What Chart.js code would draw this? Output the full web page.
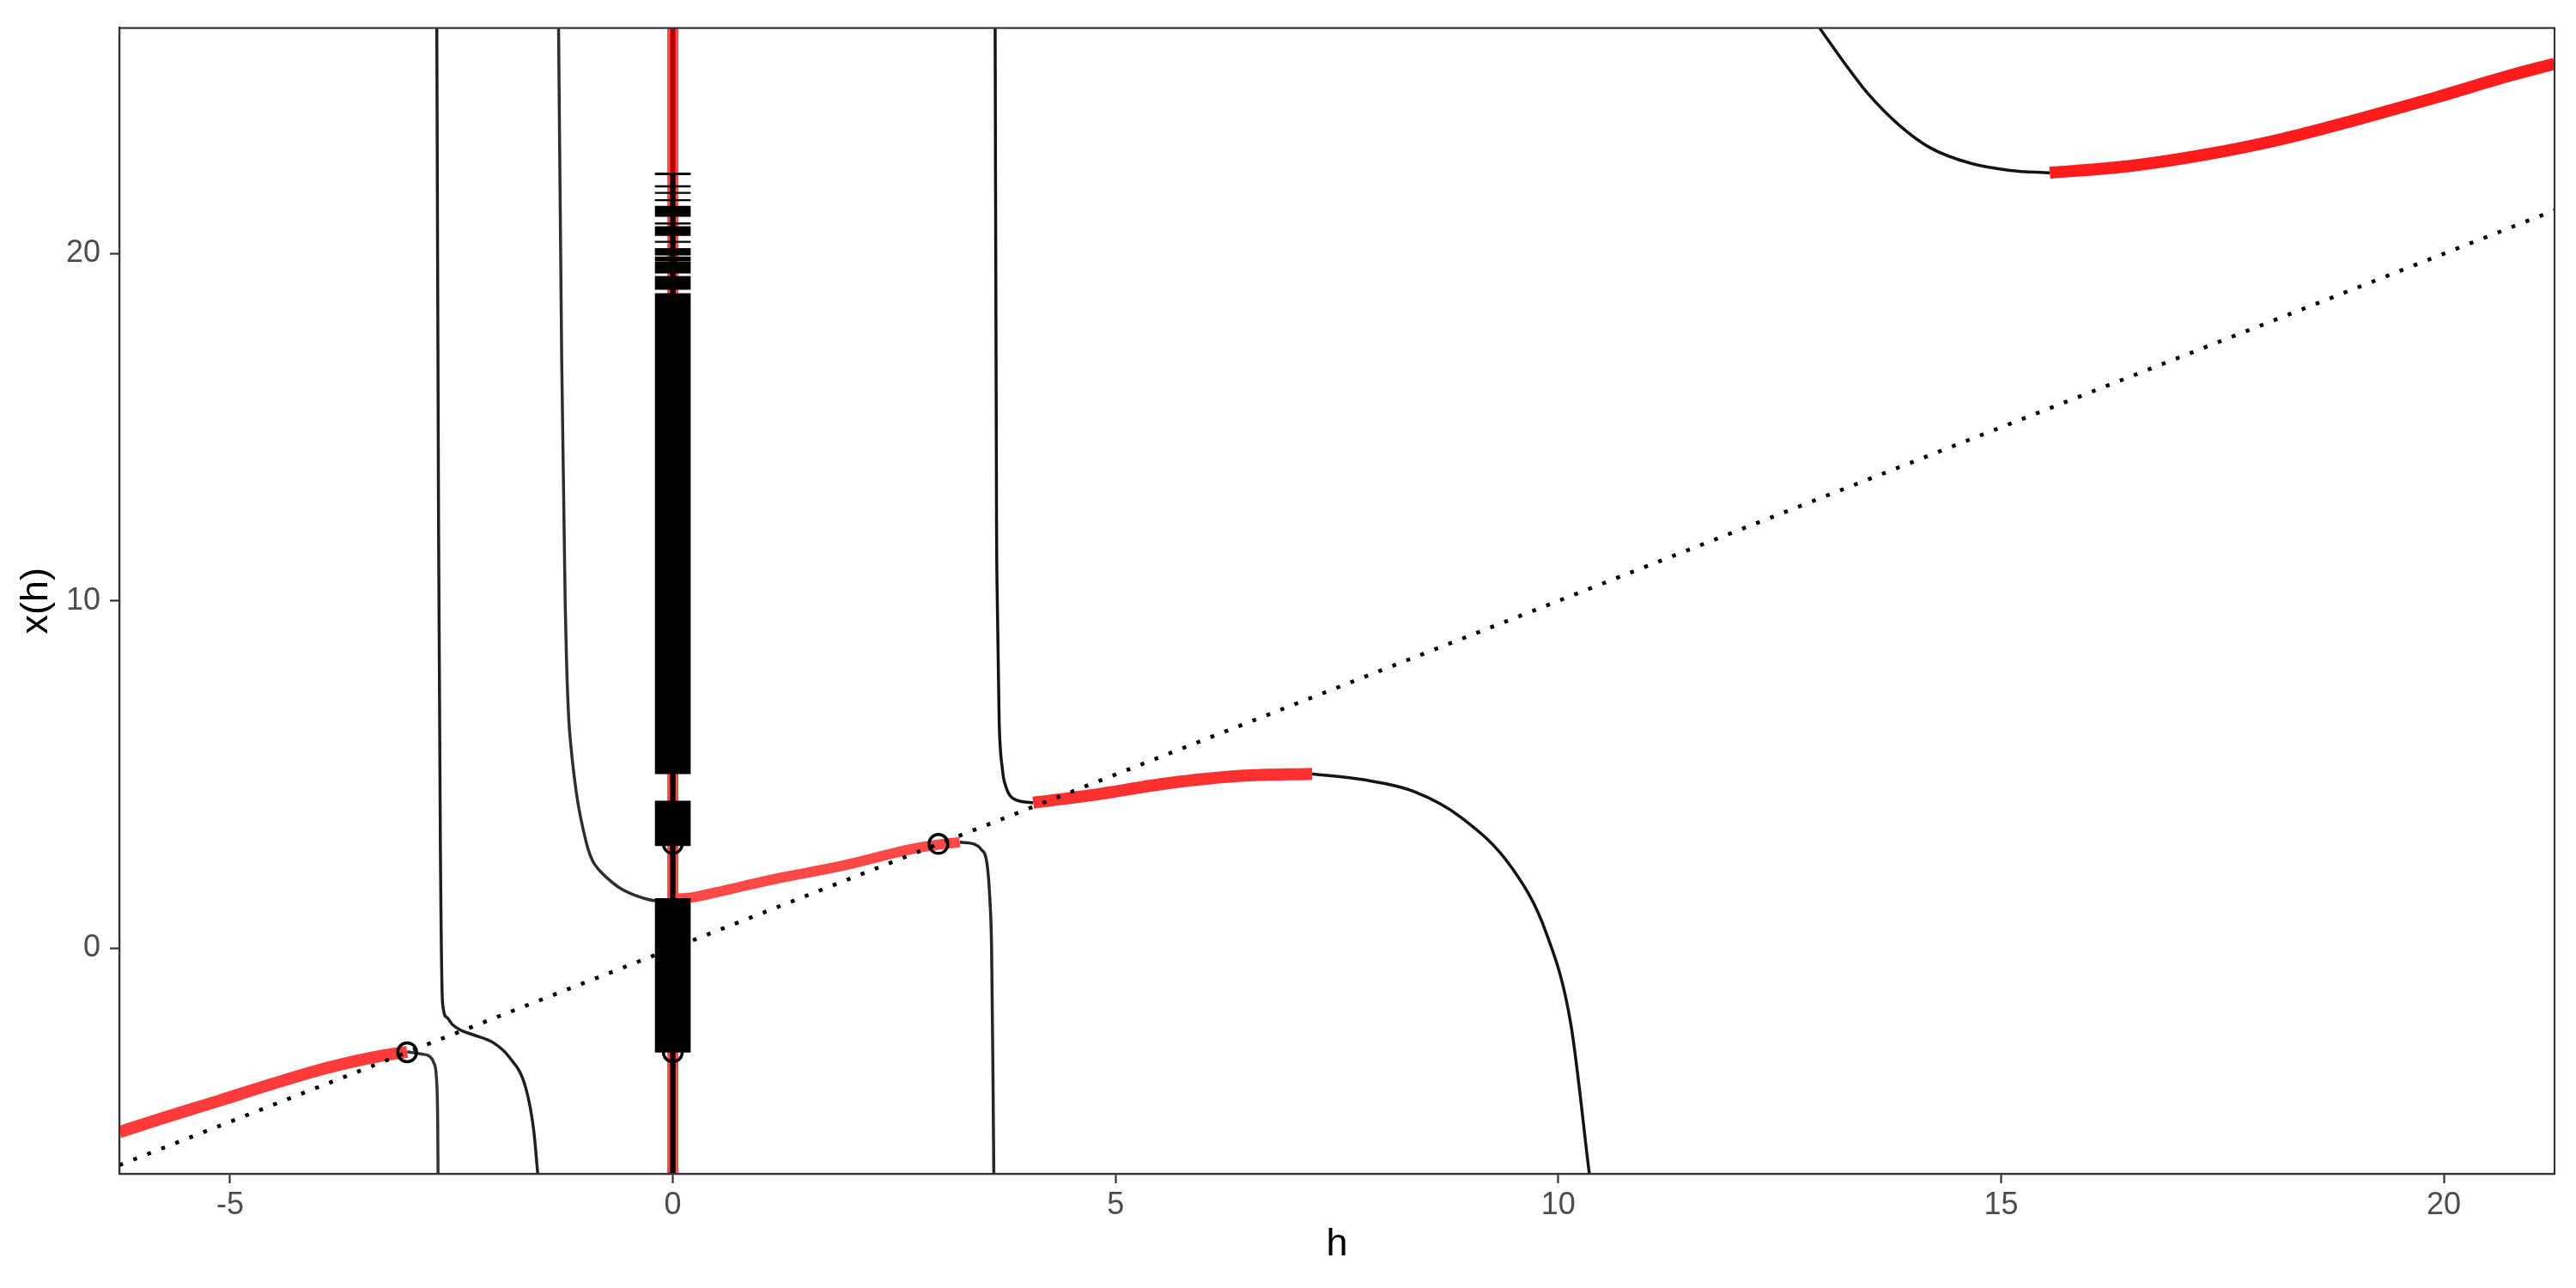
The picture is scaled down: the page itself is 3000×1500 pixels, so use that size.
<!DOCTYPE html>
<html>
<head>
<meta charset="utf-8">
<script src="https://cdn.jsdelivr.net/npm/chart.js@4.4.1/dist/chart.umd.min.js"></script>
<style>
body{margin:0;background:#fff;}
#wrap{width:3000px;height:1500px;position:relative;}
</style>
</head>
<body>
<div id="wrap"><canvas id="fixChart"></canvas></div>
<script>
// axis ticks
const hTicks = [-5, 0, 5, 10, 15, 20];
const xTicks = [0, 10, 20];

// left branch, red part then black tail
const redA_h = [-6.25, -5.74, -5.13, -4.51, -3.89, -3.27, -3.0];
const redA_x = [-5.3, -4.88, -4.4, -3.9, -3.44, -3.09, -2.99];
const blkA_h = [-3.0, -2.84, -2.74, -2.70, -2.67, -2.655, -2.651];
const blkA_x = [-2.99, -3.05, -3.13, -3.3, -3.71, -5.0, -6.5];

// branch between -2.66 and -1.5
const blkB_h = [-2.665, -2.645, -2.625, -2.60, -2.55, -2.49, -2.39, -2.25, -2.03, -1.85, -1.66, -1.57, -1.525];
const blkB_x = [26.5, 12, 3, -1.58, -2.0, -2.2, -2.37, -2.5, -2.72, -3.13, -4.03, -5.26, -6.5];

// branch from -1.3 to 3.6
const blkC_h = [-1.29, -1.255, -1.215, -1.200, -1.175, -1.150, -1.115, -1.07, -1.005, -0.956, -0.907, -0.843, -0.746, -0.585, -0.358, -0.197, 0];
const blkC_x = [26.5, 17, 9.9, 8.26, 6.6, 5.8, 4.98, 4.16, 3.34, 2.85, 2.52, 2.28, 2.03, 1.71, 1.46, 1.37, 1.40];
const redC_h = [0, 0.22, 0.48, 1.13, 1.93, 2.67, 3.0, 3.24];
const redC_x = [1.42, 1.46, 1.6, 1.98, 2.38, 2.84, 2.98, 3.05];
const tailC_h = [3.24, 3.40, 3.48, 3.55, 3.58, 3.60, 3.615, 3.625];
const tailC_x = [3.05, 3.0, 2.85, 2.4, 1.43, 0, -3.5, -6.5];

// branch from 3.6 to 10.4
const blkD_h = [3.64, 3.656, 3.665, 3.685, 3.70, 3.72, 3.735, 3.764, 3.80, 3.848, 3.94, 4.07];
const blkD_x = [26.5, 12.24, 9.9, 6.6, 5.7, 5.2, 4.9, 4.63, 4.42, 4.30, 4.22, 4.19];
const redD_h = [4.07, 4.74, 5.57, 6.41, 7.22];
const redD_x = [4.19, 4.41, 4.74, 4.96, 5.02];
const tailD_h = [7.22, 7.8, 8.36, 8.91, 9.47, 9.86, 10.14, 10.35];
const tailD_x = [5.02, 4.85, 4.52, 3.75, 2.33, 0.46, -2.17, -6.5];

// upper right branch
const blkE_h = [12.95, 13.2, 13.5, 13.85, 14.2, 14.66, 15.1, 15.55];
const blkE_x = [26.5, 25.6, 24.6, 23.7, 23.05, 22.6, 22.4, 22.33];
const redE_h = [15.55, 16.44, 17.30, 18.17, 19.03, 19.90, 20.76, 21.25];
const redE_x = [22.33, 22.52, 22.85, 23.3, 23.87, 24.49, 25.14, 25.47];

// vertical branch at h = 0
const vertH = [0, 0];
const vertX = [-6.5, 26.5];
const bodyLow = [-6.5, 4.24];
const bodyHigh = [2.95, 22.31];

// diagonal x = h
const diagH = [-6.25, 21.25];
const diagX = [-6.25, 21.25];

// fixed points
const circH = [-3, 3, 0, 0];
const circX = [-3, 3, 3, -3];

// bars at h = 0
const barLow  = [-3.0, 2.95, 5.02, 18.97, 19.44, 19.79, 19.96, 20.32, 20.52, 20.85, 21.07, 21.52, 21.73, 21.92, 22.27];
const barHigh = [1.43, 4.24, 18.85, 19.35, 19.77, 19.91, 20.15, 20.36, 20.78, 20.89, 21.37, 21.56, 21.77, 21.96, 22.33];

function pts(hs, xs){
return hs.map((h,i) => ({x:h, y:xs[i]}));
}

function curve(hs, xs, color, width, order){
return {
type:'line',
data: pts(hs, xs),
borderColor: color,
borderWidth: width,
borderCapStyle:'butt',
pointRadius:0,
cubicInterpolationMode:'monotone',
fill:false,
clip:0,
order: order
};
}

const bodySegs = [];
bodyLow.forEach((lo,i)=>{
bodySegs.push({x:0, y:lo});
bodySegs.push({x:0, y:bodyHigh[i]});
bodySegs.push({x:NaN, y:NaN});
});

const borderBox = {
id:'borderBox',
afterDraw(chart){
const a = chart.chartArea;
const c = chart.ctx;
c.save();
c.strokeStyle = '#333333';
c.lineWidth = 2.2;
c.strokeRect(a.left, a.top, a.right - a.left, a.bottom - a.top);
c.restore();
}
};

Chart.defaults.font.family = '"Liberation Sans", Arial, sans-serif';

const ctx = document.getElementById('fixChart');

new Chart(ctx, {
type:'scatter',
data:{
datasets:[
{
type:'bar',
data: barLow.map((lo,i)=>({x:0, y:[lo, barHigh[i]]})),
backgroundColor:'#000000',
borderWidth:0,
barThickness:41,
grouped:false,
clip:0,
order:1
},
{
type:'line',
data: bodySegs,
borderColor:'#000000',
borderWidth:6,
borderCapStyle:'butt',
pointRadius:0,
spanGaps:false,
clip:0,
order:2
},
{
type:'scatter',
data: pts(circH, circX),
pointRadius:11,
pointBorderWidth:3.5,
pointBackgroundColor:'rgba(0,0,0,0)',
pointBorderColor:'#000000',
clip:0,
order:3
},
{
type:'line',
data: pts(diagH, diagX),
borderColor:'#000000',
borderWidth:4.5,
borderDash:[4.5, 13],
borderCapStyle:'butt',
pointRadius:0,
clip:0,
order:4
},
curve(redA_h, redA_x, '#ff3b3b', 14, 5),
curve(redC_h, redC_x, '#ff4848', 12, 5),
curve(redD_h, redD_x, '#ff3030', 14, 5),
curve(redE_h, redE_x, '#ff1c1c', 14, 5),
{
type:'line',
data: pts(vertH, vertX),
borderColor:'rgba(255,0,0,0.7)',
borderWidth:13,
pointRadius:0,
clip:0,
order:6
},
curve(vertH, vertX, '#000000', 6, 7),
curve(blkA_h, blkA_x, 'rgba(0,0,0,0.8)', 3.5, 8),
curve(blkB_h, blkB_x, 'rgba(0,0,0,0.88)', 3.5, 8),
curve(blkC_h, blkC_x, 'rgba(0,0,0,0.82)', 3.5, 8),
curve(tailC_h, tailC_x, 'rgba(0,0,0,0.85)', 3.5, 8),
curve(blkD_h, blkD_x, 'rgba(0,0,0,0.92)', 3.5, 8),
curve(tailD_h, tailD_x, 'rgba(0,0,0,0.92)', 3.5, 8),
curve(blkE_h, blkE_x, 'rgba(0,0,0,0.92)', 3.5, 8)
]
},
options:{
responsive:true,
maintainAspectRatio:false,
devicePixelRatio:1,
animation:false,
layout:{padding:{top:23, right:25, left:0, bottom:0}},
plugins:{legend:{display:false}, tooltip:{enabled:false}},
scales:{
x:{
type:'linear',
min:-6.25,
max:21.25,
offset:false,
afterFit: s => { s.height = 133; },
afterBuildTicks: s => { s.ticks = hTicks.map(v => ({value:v})); },
grid:{display:true, offset:false, drawOnChartArea:false, drawTicks:true, tickLength:11, tickWidth:2.2, tickColor:'#333333'},
border:{display:true, color:'#333333', width:2.2},
ticks:{color:'#4d4d4d', font:{size:36}, padding:4, maxRotation:0, autoSkip:false},
title:{display:true, text:'h', color:'#000000', font:{size:45}, padding:{top:0, bottom:23}}
},
y:{
type:'linear',
min:-6.5,
max:26.5,
afterFit: s => { s.width = 139; },
afterBuildTicks: s => { s.ticks = xTicks.map(v => ({value:v})); },
grid:{display:true, offset:false, drawOnChartArea:false, drawTicks:true, tickLength:11, tickWidth:2.2, tickColor:'#333333'},
border:{display:true, color:'#333333', width:2.2},
ticks:{color:'#4d4d4d', font:{size:36}, padding:11, autoSkip:false},
title:{display:true, text:'x(h)', color:'#000000', font:{size:45}, padding:{top:16, bottom:0}}
}
}
},
plugins:[borderBox]
});
</script>
</body>
</html>
